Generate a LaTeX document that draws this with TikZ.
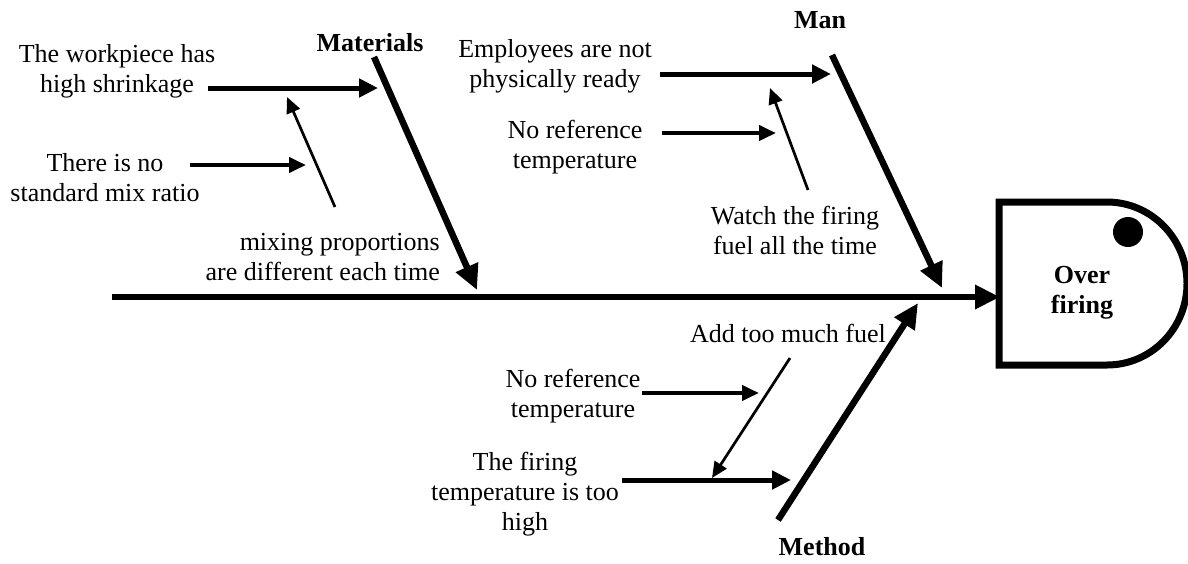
\documentclass[tikz,border=0pt]{standalone}
\usepackage{fontspec}
\setmainfont{Liberation Serif}
\usetikzlibrary{arrows.meta}
\begin{document}
\begin{tikzpicture}[x=1pt,y=-1pt,
  txt/.style={font=\fontsize{26}{30}\selectfont, align=center, inner sep=0pt},
  head/.style={font=\bfseries\fontsize{26}{30}\selectfont, inner sep=0pt},
  bone/.style={line width=6.5pt, -{Triangle[length=25pt,width=23pt]}},
  thickarr/.style={line width=5pt, -{Triangle[length=19pt,width=18pt]}},
  midarr/.style={line width=4pt, -{Triangle[length=17pt,width=15pt]}},
  thinarr/.style={line width=2.7pt, -{Triangle[length=16pt,width=14pt]}}]
\useasboundingbox (0,0) rectangle (1188,563);
% head box
\draw[line width=7pt, line join=miter] (999,202) -- (1107,202) arc[start angle=-90, end angle=90, x radius=80, y radius=81.5] -- (999,365) -- cycle;
\fill (1128,232) circle (15);
\node[head, align=center] (effect) at (1082,293) {Over\\firing};
% spine
\coordinate (tail) at (112,297);
\coordinate (tip) at (1000,297);
\draw[bone] (tail) -- (tip);
% Materials
\node[head] (mat) at (370,43) {Materials};
\coordinate (m1) at (374,57);
\coordinate (m2) at (477,290);
\draw[bone] (m1) -- (m2);
\node[txt] (wp) at (117,71) {The workpiece has\\high shrinkage};
\coordinate (wpa) at (208,88);
\coordinate (wpb) at (378,88);
\draw[thickarr] (wpa) -- (wpb);
\node[txt] (mix) at (105,178) {There is no\\standard mix ratio};
\coordinate (mixa) at (190,165);
\coordinate (mixb) at (306,165);
\draw[midarr] (mixa) -- (mixb);
\coordinate (pa) at (335,207);
\coordinate (pb) at (287,97);
\draw[thinarr] (pa) -- (pb);
\node[txt, align=right, anchor=east] (prop) at (440,257) {mixing proportions\\are different each time};
% Man
\node[head] (man) at (820,20) {Man};
\coordinate (n1) at (832,55);
\coordinate (n2) at (942,288);
\draw[bone] (n1) -- (n2);
\node[txt] (emp) at (555,66) {Employees are not\\physically ready};
\coordinate (ea) at (660,74);
\coordinate (eb) at (831,74);
\draw[thickarr] (ea) -- (eb);
\node[txt] (ref1) at (575,147) {No reference\\temperature};
\coordinate (ra) at (662,133);
\coordinate (rb) at (776,133);
\draw[midarr] (ra) -- (rb);
\coordinate (wa) at (808,190);
\coordinate (wb) at (770,88);
\draw[thinarr] (wa) -- (wb);
\node[txt] (watch) at (795,230) {Watch the firing\\fuel all the time};
% Method
\node[head] (meth) at (822,547) {Method};
\coordinate (t1) at (778,520);
\coordinate (t2) at (918,303);
\draw[bone] (t1) -- (t2);
\node[txt] (fuel) at (788,333) {Add too much fuel};
\coordinate (fa) at (790,358);
\coordinate (fb) at (712,478);
\draw[thinarr] (fa) -- (fb);
\node[txt] (ref2) at (573,396) {No reference\\temperature};
\coordinate (r2a) at (642,393);
\coordinate (r2b) at (759,393);
\draw[midarr] (r2a) -- (r2b);
\node[txt] (fire) at (525,494) {The firing\\temperature is too\\high};
\coordinate (fia) at (622,480);
\coordinate (fib) at (791,480);
\draw[thickarr] (fia) -- (fib);
\end{tikzpicture}
\end{document}
